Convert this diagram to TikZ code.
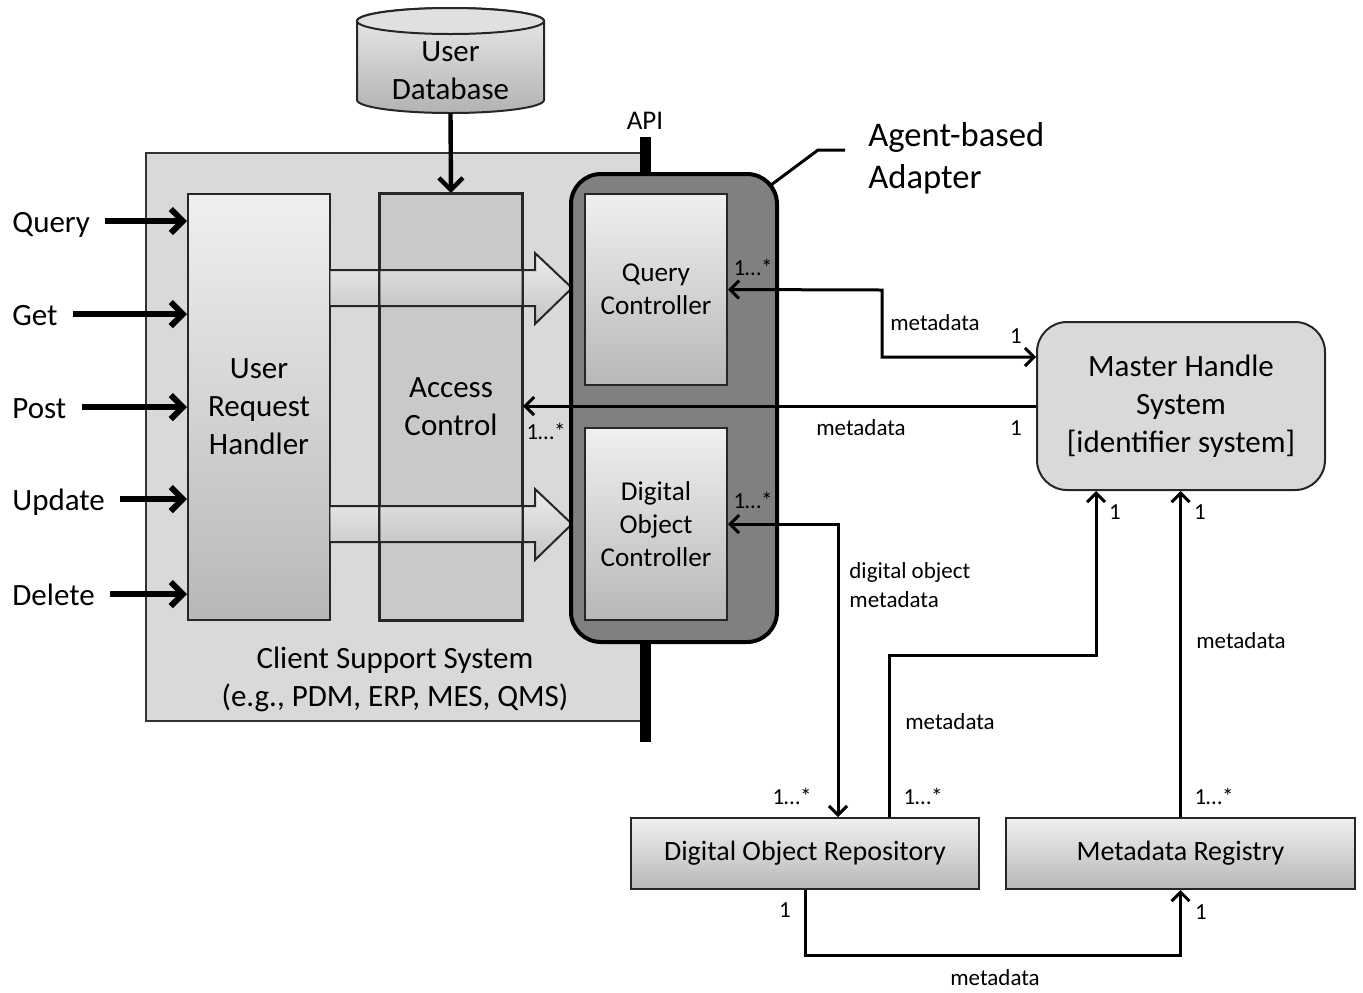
\documentclass[tikz,border=0pt]{standalone}
\usepackage{fontspec}
\setmainfont{Carlito}
\usetikzlibrary{arrows.meta,calc}
\begin{document}
\begin{tikzpicture}[x=0.5pt,y=-0.5pt,
  big/.style={font=\fontsize{15.5}{19}\selectfont},
  mid/.style={font=\fontsize{13.6}{16.5}\selectfont},
  small/.style={font=\fontsize{11.5}{14.5}\selectfont, inner sep=0pt},
  gradbox/.style={draw=black!85, line width=1pt, top color=black!6, bottom color=black!28, align=center, inner sep=0pt},
  conn/.style={line width=1.5pt, draw=black},
  tipend/.style={-{Straight Barb[length=4.5pt,width=9pt]}},
  tipboth/.style={{Straight Barb[length=4.5pt,width=9pt]}-{Straight Barb[length=4.5pt,width=9pt]}},
  inarr/.style={line width=3pt, -{Straight Barb[length=6pt,width=12pt]}, shorten <=7.5pt},
  inlbl/.style={big, anchor=west, inner sep=0pt, text height=12pt, text depth=1pt},
  hollow/.style={top color=white, bottom color=black!30, fill opacity=0.55},
]
\useasboundingbox (0,0) rectangle (1363,992);

% Client support system background
\node[draw=black!80, line width=0.8pt, fill=black!15, minimum width=249.5pt, minimum height=284pt, inner sep=0pt] (css) at (395.5,437) {};
\node[big, align=center] (csst) at (395,679) {Client Support System\\(e.g., PDM, ERP, MES, QMS)};

% API bar
\node[font=\fontsize{13.5}{16}\selectfont, inner sep=0pt] (api) at (645,121) {API};
\draw[line width=5.5pt] (645,137) -- (645,742);

% User database cylinder
\path[top color=black!8, bottom color=black!30, draw=black!85, line width=1pt]
  (357,21) -- (357,100) arc[start angle=180,end angle=360,x radius=46.75pt,y radius=6.5pt]
  -- (544,21) arc[start angle=0,end angle=180,x radius=46.75pt,y radius=6.5pt] -- cycle;
\draw[fill=black!12, draw=black!85, line width=1pt] (450.5,21) ellipse[x radius=46.75pt,y radius=6.5pt];
\node[big, align=center, inner sep=0pt, minimum width=93.5pt, minimum height=42pt] (udb) at (450.5,71) {User\\Database};

% User request handler and access control
\node[gradbox, big, minimum width=71pt, minimum height=213pt] (urh) at (259,407) {User\\Request\\Handler};
\node[draw=black!85, line width=1pt, fill=black!21, minimum width=71pt, minimum height=213pt, big, align=center, inner sep=0pt] (ac) at (451,407) {Access\\Control};
\draw[line width=2.2pt, -{Straight Barb[length=6pt,width=12pt]}] (udb.south) -- (ac.north);

% hollow arrows
\foreach \yc in {288,524} {
  \path[hollow] (330,\yc-18) -- (535,\yc-18) -- (535,\yc-35) -- (572,\yc) -- (535,\yc+36) -- (535,\yc+18) -- (330,\yc+18) -- cycle;
  \draw[line width=1pt, draw=black!85] (330,\yc-18) -- (535,\yc-18) -- (535,\yc-35) -- (572,\yc) -- (535,\yc+36) -- (535,\yc+18) -- (330,\yc+18);
}
\draw[line width=1pt, draw=black!85] (ac.north west) rectangle (ac.south east);

% input requests
\node[inlbl] (lq) at (12,221) {Query};
\node[inlbl] (lg) at (12,314) {Get};
\node[inlbl] (lp) at (12,407) {Post};
\node[inlbl] (lu) at (12,499) {Update};
\node[inlbl] (ld) at (12,594) {Delete};
\foreach \n in {lq,lg,lp,lu,ld} {
  \draw[inarr] (\n.east) -- (urh.west |- \n.east);
}

% Agent-based adapter
\node[draw=black, line width=2pt, fill=black!50, rounded corners=15pt, minimum width=103pt, minimum height=234pt, inner sep=0pt] (ad) at (674,408) {};
\node[gradbox, mid, minimum width=71pt, minimum height=95.5pt] (qc) at (656,289.5) {Query\\Controller};
\node[gradbox, mid, minimum width=71pt, minimum height=96pt] (doc) at (656,524) {Digital\\Object\\Controller};
\node[font=\fontsize{17.3}{21}\selectfont, align=left, anchor=west, inner sep=0pt] (agent) at (868,158) {Agent-based\\Adapter};
\coordinate (pt1) at (818,150);
\coordinate (pt2) at (845,150);
\draw[line width=1.5pt] ([shift={(-4pt,-6.5pt)}]ad.north east) -- (pt1) -- (pt2);

% right side systems
\node[draw=black!85, line width=1pt, fill=black!15, rounded corners=15pt, minimum width=144pt, minimum height=84pt, big, align=center, inner sep=0pt] (mhs) at (1181,406) {Master Handle\\System\\{[identifier system]}};
\node[gradbox, font=\fontsize{14}{17}\selectfont, minimum width=174pt, minimum height=35.5pt] (dor) at (805,853.5) {Digital Object Repository};
\node[gradbox, font=\fontsize{14}{17}\selectfont, minimum width=174.5pt, minimum height=35.5pt] (mr) at (1180.5,853.5) {Metadata Registry};

% connectors
\draw[conn, tipboth] (qc.east) -- (882,290) |- (mhs.west |- 0,357);
\draw[conn, tipend] (mhs.west) -- (ac.east |- mhs.west);
\draw[conn, tipboth] (doc.east) -| (dor.north -| 838,0);
\draw[conn, tipend] (dor.north -| 889,0) |- (1096,655) -- (mhs.south -| 1096,0);
\draw[conn, tipend] (mr.north) -- (mhs.south -| mr.north);
\draw[conn, tipend] (dor.south) -- (805,955) -| (mr.south);

% labels
\node[small] (l1) at (753,267) {1…*};
\node[small] (l2) at (935,323) {metadata};
\node[small] (l3) at (1016,336) {1};
\node[small] (l4) at (546,431) {1…*};
\node[small] (l5) at (861,428) {metadata};
\node[small] (l6) at (1016,428) {1};
\node[small] (l7) at (753,500) {1…*};
\node[small, align=left, anchor=west] (l8) at (849,585) {digital object\\metadata};
\node[small] (l9) at (792,796) {1…*};
\node[small] (l10) at (950,722) {metadata};
\node[small] (l11) at (923,796) {1…*};
\node[small] (l12) at (1115,512) {1};
\node[small] (l13) at (1200,512) {1};
\node[small] (l14) at (1241,641) {metadata};
\node[small] (l15) at (1214,796) {1…*};
\node[small] (l16) at (785,910) {1};
\node[small] (l17) at (1201,912) {1};
\node[small] (l18) at (995,978) {metadata};
\end{tikzpicture}
\end{document}
